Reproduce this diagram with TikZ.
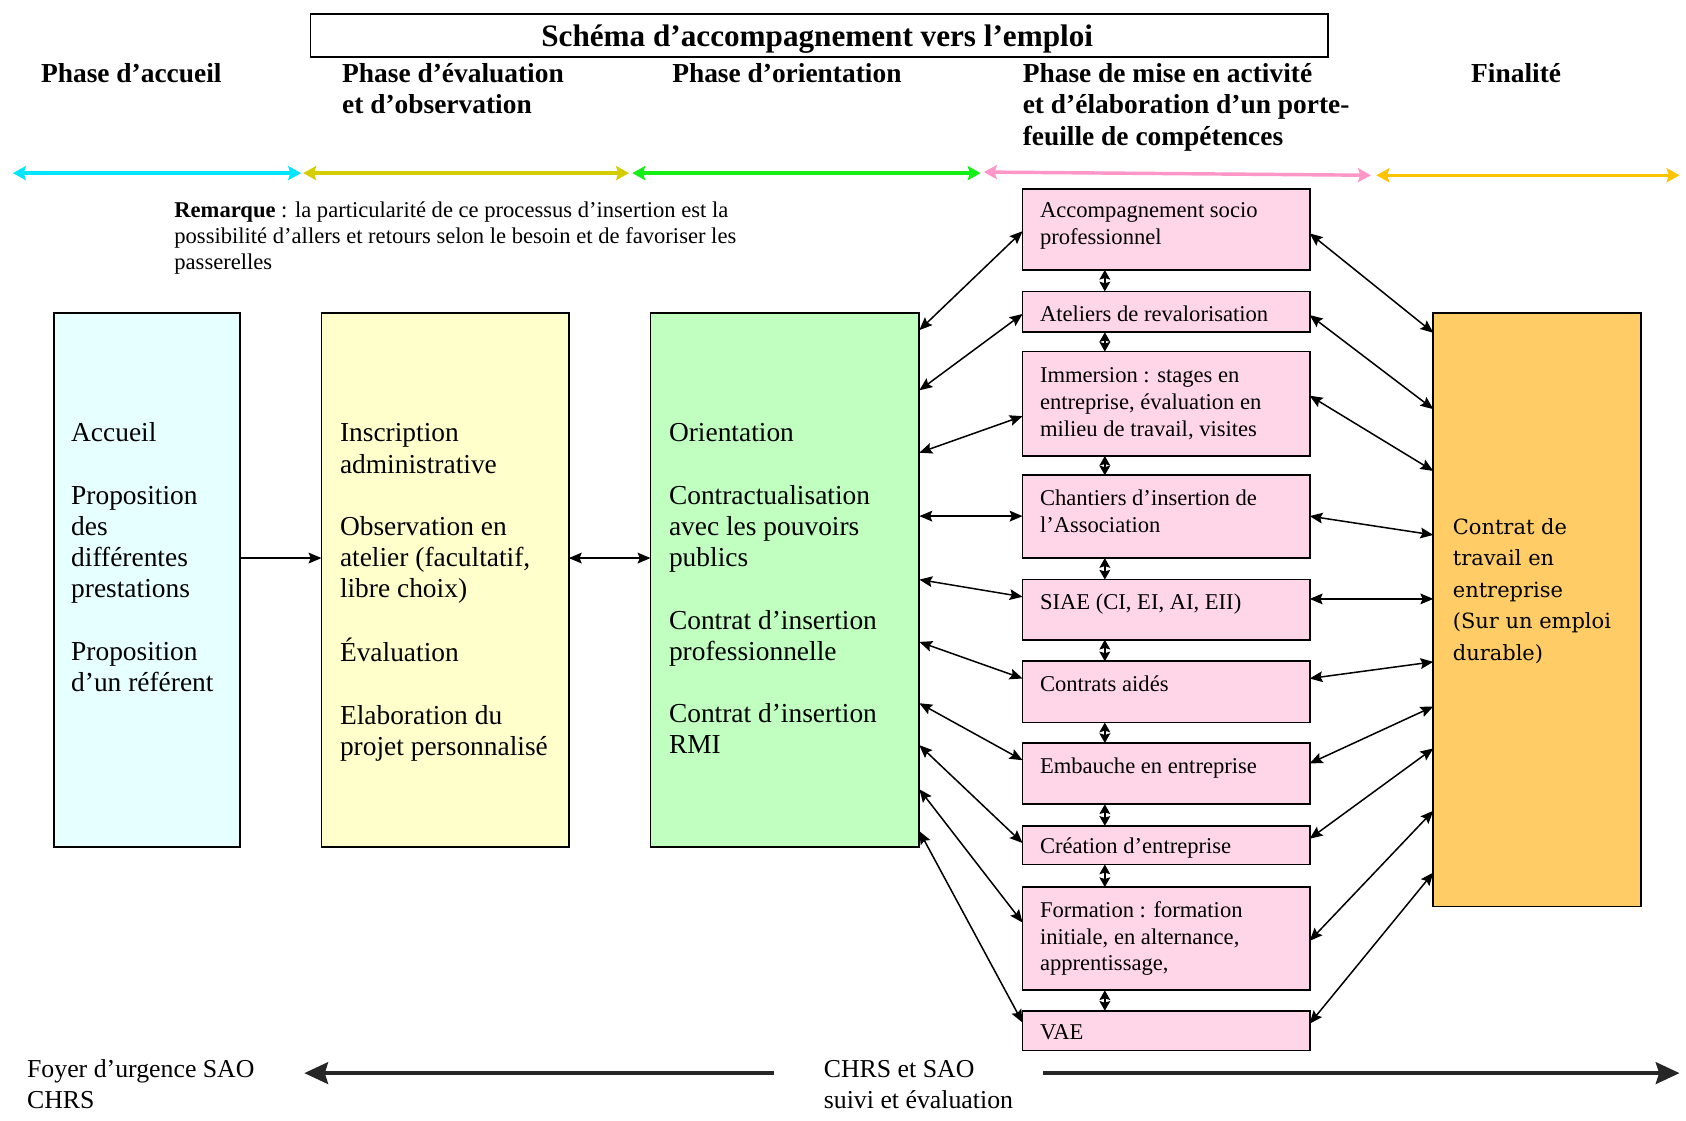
\documentclass[tikz,border=0pt]{standalone}
\usepackage{fontspec}
\setmainfont{Liberation Serif}
\newfontfamily\orfont{DejaVu Serif}
\usetikzlibrary{arrows.meta,calc}

\newcommand{\mlines}[1]{\begin{tabular}[t]{@{}l@{}}#1\end{tabular}}

\definecolor{cyanA}{RGB}{0,230,255}
\definecolor{yelA}{RGB}{212,205,0}
\definecolor{grnA}{RGB}{20,240,20}
\definecolor{pnkA}{RGB}{255,150,200}
\definecolor{orgA}{RGB}{255,195,0}
\definecolor{cyanF}{RGB}{230,255,255}
\definecolor{yelF}{RGB}{255,255,204}
\definecolor{grnF}{RGB}{192,255,192}
\definecolor{pnkF}{RGB}{255,214,232}
\definecolor{orgF}{RGB}{255,204,102}

\tikzset{
  box/.style={draw=black, line width=1.6pt, inner sep=0pt, outer sep=0pt, anchor=north west},
  ptxt/.style={anchor=base west, inner sep=0pt, font=\fontsize{21pt}{25pt}\selectfont},
  btxt/.style={anchor=base west, inner sep=0pt, font=\fontsize{25.5pt}{29pt}\selectfont},
  head/.style={anchor=base west, inner sep=0pt, font=\fontsize{25.5pt}{29pt}\selectfont\bfseries},
  bot/.style={anchor=base west, inner sep=0pt, font=\fontsize{24pt}{29pt}\selectfont},
  tipc/.tip={Stealth[length=12pt,width=10pt,inset=2pt]},
  tipv/.tip={Stealth[length=9pt,width=10pt,inset=1.5pt]},
  tipp/.tip={Stealth[length=12pt,width=13pt,inset=2pt]},
  conn/.style={line width=1.4pt, tipc-tipc},
  vconn/.style={line width=1.5pt, tipv-tipv},
  phase/.style={line width=3.2pt, tipp-tipp},
  bigarr/.style={line width=4pt, black!85, -{Stealth[length=22pt,width=20pt,inset=3pt]}},
}

\begin{document}
\begin{tikzpicture}[x=1pt,y=-1pt]
\fill[white] (0,0) rectangle (1568,1042);
\useasboundingbox (0,0) rectangle (1568,1042);

% title
\node[draw=black, line width=1.6pt, minimum width=946pt, minimum height=40pt, inner sep=0pt, anchor=north west] (tbox) at (288,12) {};
\node[anchor=base, inner sep=0pt, font=\fontsize{29pt}{32pt}\selectfont\bfseries] (title) at (760,43) {Schéma d’accompagnement vers l’emploi};

% headers
\node[head] (h1) at (38,77) {Phase d’accueil};
\node[head] (h2) at (318,77) {\mlines{Phase d’évaluation\\et d’observation}};
\node[head] (h3) at (625,77) {Phase d’orientation};
\node[head] (h4) at (951,77) {\mlines{Phase de mise en activité\\et d’élaboration d’un porte-\\feuille de compétences}};
\node[head] (h5) at (1368,77) {Finalité};

% phase arrows
\coordinate (p1a) at (12,161);   \coordinate (p1b) at (280,161);
\coordinate (p2a) at (282,161);  \coordinate (p2b) at (585,161);
\coordinate (p3a) at (588,161);  \coordinate (p3b) at (912,161);
\coordinate (p4a) at (915,160);  \coordinate (p4b) at (1275,163);
\coordinate (p5a) at (1280,163); \coordinate (p5b) at (1562,163);
\draw[phase, cyanA] (p1a) -- (p1b);
\draw[phase, yelA] (p2a) -- (p2b);
\draw[phase, grnA] (p3a) -- (p3b);
\draw[phase, pnkA] (p4a) -- (p4b);
\draw[phase, orgA] (p5a) -- (p5b);

% remark
\node[ptxt, font=\fontsize{21pt}{24.5pt}\selectfont] (rem) at (162,202) {\mlines{\textbf{Remarque} : la particularité de ce processus d’insertion est la\\possibilité d’allers et retours selon le besoin et de favoriser les\\passerelles}};

% big boxes
\node[box, fill=cyanF, minimum width=173pt, minimum height=497pt] (cy) at (50,291) {};
\node[box, fill=yelF, minimum width=230pt, minimum height=497pt] (ye) at (299,291) {};
\node[box, fill=grnF, minimum width=250pt, minimum height=497pt] (gr) at (605,291) {};
\node[box, fill=orgF, minimum width=193pt, minimum height=552pt] (or) at (1333,291) {};

\node[btxt] (tcy) at (66,411) {\mlines{Accueil\\[29pt]Proposition\\des\\différentes\\prestations\\[29pt]Proposition\\d’un référent}};
\node[btxt] (tye) at (316,411) {\mlines{Inscription\\administrative\\[29pt]Observation en\\atelier (facultatif,\\libre choix)\\[29pt]Évaluation\\[29pt]Elaboration du\\projet personnalisé}};
\node[btxt] (tgr) at (622,411) {\mlines{Orientation\\[29pt]Contractualisation\\avec les pouvoirs\\publics\\[29pt]Contrat d’insertion\\professionnelle\\[29pt]Contrat d’insertion\\RMI}};
\node[anchor=base west, inner sep=0pt, font=\orfont\fontsize{19.5pt}{29.3pt}\selectfont] (tor) at (1351,497) {\mlines{Contrat de\\travail en\\entreprise\\(Sur un emploi\\durable)}};

% pink boxes
\node[box, fill=pnkF, minimum width=267pt, minimum height=75pt] (acc) at (951,176) {};
\node[box, fill=pnkF, minimum width=267pt, minimum height=38pt] (ate) at (951,271) {};
\node[box, fill=pnkF, minimum width=267pt, minimum height=97pt] (imm) at (951,327) {};
\node[box, fill=pnkF, minimum width=267pt, minimum height=77pt] (cha) at (951,442) {};
\node[box, fill=pnkF, minimum width=267pt, minimum height=56pt] (sia) at (951,539) {};
\node[box, fill=pnkF, minimum width=267pt, minimum height=57pt] (con) at (951,615) {};
\node[box, fill=pnkF, minimum width=267pt, minimum height=57pt] (emb) at (951,691) {};
\node[box, fill=pnkF, minimum width=267pt, minimum height=36pt] (cre) at (951,768) {};
\node[box, fill=pnkF, minimum width=267pt, minimum height=96pt] (for) at (951,825) {};
\node[box, fill=pnkF, minimum width=267pt, minimum height=37pt] (vae) at (951,940) {};

\node[ptxt] (tacc) at (967,202) {\mlines{Accompagnement socio\\professionnel}};
\node[ptxt] (tate) at (967,299) {Ateliers de revalorisation};
\node[ptxt] (timm) at (967,356) {\mlines{Immersion : stages en\\entreprise, évaluation en\\milieu de travail, visites}};
\node[ptxt] (tcha) at (967,470) {\mlines{Chantiers d’insertion de\\l’Association}};
\node[ptxt] (tsia) at (967,567) {SIAE (CI, EI, AI, EII)};
\node[ptxt] (tcon) at (967,643) {Contrats aidés};
\node[ptxt] (temb) at (967,719) {Embauche en entreprise};
\node[ptxt] (tcre) at (967,794) {Création d’entreprise};
\node[ptxt] (tfor) at (967,853) {\mlines{Formation : formation\\initiale, en alternance,\\apprentissage,}};
\node[ptxt] (tvae) at (967,967) {VAE};

% left-side arrows
\draw[line width=1.4pt, -tipc] ([yshift=20.5pt]cy.east) -- ([yshift=20.5pt]ye.west);
\draw[conn] ([yshift=20.5pt]ye.east) -- ([yshift=20.5pt]gr.west);

% green -> pink
\draw[conn] ([yshift=-16pt]gr.north east) -- ([yshift=-39pt]acc.north west);
\draw[conn] ([yshift=-72pt]gr.north east) -- ([yshift=-21pt]ate.north west);
\draw[conn] ([yshift=-130pt]gr.north east) -- ([yshift=-60pt]imm.north west);
\draw[conn] ([yshift=-189pt]gr.north east) -- ([yshift=-38pt]cha.north west);
\draw[conn] ([yshift=-248pt]gr.north east) -- ([yshift=-16pt]sia.north west);
\draw[conn] ([yshift=-306pt]gr.north east) -- ([yshift=-16pt]con.north west);
\draw[conn] ([yshift=-363pt]gr.north east) -- ([yshift=-16pt]emb.north west);
\draw[conn] ([yshift=-402pt]gr.north east) -- ([yshift=-16pt]cre.north west);
\draw[conn] ([yshift=-443pt]gr.north east) -- ([yshift=-33pt]for.north west);
\draw[conn] ([yshift=-482pt]gr.north east) -- ([yshift=-11pt]vae.north west);

% pink -> orange
\draw[conn] ([yshift=-41pt]acc.north east) -- ([yshift=-18.5pt]or.north west);
\draw[conn] ([yshift=-22pt]ate.north east) -- ([yshift=-89.5pt]or.north west);
\draw[conn] ([yshift=-41pt]imm.north east) -- ([yshift=-147pt]or.north west);
\draw[conn] ([yshift=-38pt]cha.north east) -- ([yshift=-206.5pt]or.north west);
\draw[conn] ([yshift=-18pt]sia.north east) -- ([yshift=-266pt]or.north west);
\draw[conn] ([yshift=-16pt]con.north east) -- ([yshift=-324.5pt]or.north west);
\draw[conn] ([yshift=-19pt]emb.north east) -- ([yshift=-366pt]or.north west);
\draw[conn] ([yshift=-12pt]cre.north east) -- ([yshift=-405pt]or.north west);
\draw[conn] ([yshift=-50pt]for.north east) -- ([yshift=-463pt]or.north west);
\draw[conn] ([yshift=-12pt]vae.north east) -- ([yshift=-520.5pt]or.north west);

% vertical pink links
\foreach \a/\b in {acc/ate, ate/imm, imm/cha, cha/sia, sia/con, con/emb, emb/cre, cre/for, for/vae}
  \draw[vconn] ([xshift=-57pt]\a.south) -- ([xshift=-57pt]\b.north);

% bottom
\node[bot] (foy) at (25,1002) {\mlines{Foyer d’urgence SAO\\CHRS}};
\node[bot] (chrs) at (766,1002) {\mlines{CHRS et SAO\\suivi et évaluation}};
\coordinate (bl1) at (720,998); \coordinate (bl2) at (283,998);
\coordinate (br1) at (970,998); \coordinate (br2) at (1562,998);
\draw[bigarr] (bl1) -- (bl2);
\draw[bigarr] (br1) -- (br2);
\end{tikzpicture}
\end{document}
